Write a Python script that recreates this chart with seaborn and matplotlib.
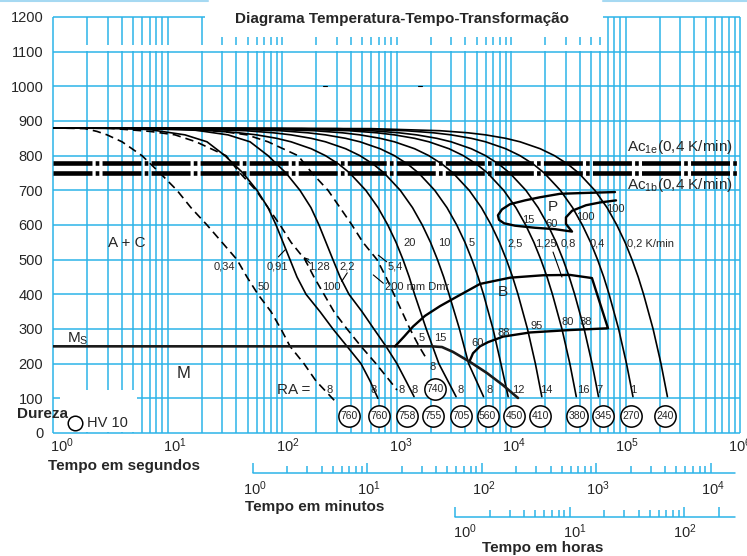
import numpy as np
import matplotlib
matplotlib.use('Agg')
import matplotlib.pyplot as plt
import matplotlib.transforms as mtransforms
from matplotlib.patches import Rectangle
from matplotlib.lines import Line2D
import seaborn as sns

# cooling curves: time as log10(seconds), temperature in degC
# round bars (dashed) and lambda curves (solid)
T_d50 = [880, 878, 870, 860, 840, 800, 750, 700, 650, 600, 550, 500, 450, 400, 350, 300, 250, 200, 150, 86]
lgt_d50 = [0, 0.279, 0.384, 0.472, 0.603, 0.777, 0.934, 1.083, 1.205, 1.345, 1.476, 1.607, 1.694, 1.790,
           1.904, 1.991, 2.070, 2.192, 2.297, 2.480]

T_l091 = [880, 879, 875, 860, 840, 800, 750, 700, 650, 600, 550, 500, 450, 400, 350, 300, 250, 200, 150, 100]
lgt_l091 = [0, 0.585, 0.847, 1.153, 1.345, 1.502, 1.659, 1.782, 1.878, 1.948, 2.009, 2.070, 2.131, 2.210,
            2.332, 2.445, 2.568, 2.690, 2.769, 2.838]

T_d100 = [880, 879, 870, 860, 840, 800, 750, 700, 650, 600, 550, 500, 450, 400, 350, 300, 250, 200, 150, 124]
lgt_d100 = [0, 0.498, 0.847, 1.066, 1.249, 1.511, 1.633, 1.773, 1.878, 1.983, 2.079, 2.201, 2.279, 2.367,
            2.454, 2.568, 2.690, 2.821, 2.943, 3.004]

T_l22 = [880, 879, 875, 860, 840, 800, 750, 700, 650, 600, 550, 500, 450, 400, 350, 300, 250, 200, 150, 105]
lgt_l22 = [0, 0.934, 1.214, 1.528, 1.721, 1.878, 2.035, 2.157, 2.253, 2.323, 2.384, 2.445, 2.507, 2.585,
           2.699, 2.803, 2.908, 3.004, 3.083, 3.153]

T_d200 = [880, 879, 870, 860, 840, 800, 750, 700, 650, 600, 550, 500, 450, 400, 350, 300, 250, 212]
lgt_d200 = [0, 1.127, 1.476, 1.694, 1.878, 2.140, 2.262, 2.402, 2.507, 2.611, 2.707, 2.830, 2.908, 2.978,
            3.048, 3.118, 3.197, 3.266]

# constant-rate curves (K/min)
T_rate = [880, 878, 872, 866, 860, 850, 840, 820, 800, 775, 750, 700, 650, 600, 550, 500, 450, 400, 300, 200, 105]
lgt_r20 = [0, 0.778, 1.380, 1.623, 1.778, 1.954, 2.079, 2.255, 2.380, 2.498, 2.591, 2.732, 2.839, 2.924,
           2.996, 3.057, 3.111, 3.158, 3.26, 3.37, 3.52]
lgt_r10 = [0, 1.079, 1.681, 1.924, 2.079, 2.255, 2.380, 2.556, 2.681, 2.799, 2.892, 3.033, 3.140, 3.225,
           3.297, 3.358, 3.412, 3.459, 3.55, 3.63, 3.76]
lgt_r5 = [0, 1.380, 1.982, 2.225, 2.380, 2.556, 2.681, 2.857, 2.982, 3.100, 3.193, 3.334, 3.441, 3.526,
          3.598, 3.659, 3.713, 3.760, 3.843, 3.912, 3.975]
lgt_r2_5 = [0, 1.681, 2.283, 2.526, 2.681, 2.857, 2.982, 3.158, 3.283, 3.401, 3.494, 3.635, 3.742, 3.827,
            3.899, 3.960, 4.014, 4.061, 4.144, 4.213, 4.269]
lgt_r1_25 = [0, 1.982, 2.584, 2.827, 2.982, 3.158, 3.283, 3.459, 3.584, 3.702, 3.795, 3.936, 4.043, 4.128,
             4.200, 4.261, 4.315, 4.362, 4.445, 4.514, 4.570]
lgt_r0_8 = [0, 2.176, 2.778, 3.021, 3.176, 3.352, 3.477, 3.653, 3.778, 3.896, 3.989, 4.130, 4.237, 4.322,
            4.394, 4.455, 4.509, 4.556, 4.639, 4.708, 4.764]
lgt_r0_4 = [0, 2.477, 3.079, 3.322, 3.477, 3.653, 3.778, 3.954, 4.079, 4.197, 4.290, 4.431, 4.538, 4.623,
            4.695, 4.756, 4.810, 4.857, 4.940, 5.009, 5.065]
lgt_r0_2 = [0, 2.778, 3.380, 3.623, 3.778, 3.954, 4.079, 4.255, 4.380, 4.498, 4.591, 4.732, 4.839, 4.924,
            4.996, 5.057, 5.111, 5.158, 5.241, 5.310, 5.366]
rate_labels = ['20', '10', '5', '2,5', '1,25', '0,8', '0,4', '0,2 K/min']

# transformation regions
T_ms = [250, 250, 248, 234, 205, 173, 138, 101]
lgt_ms = [0, 3.310, 3.397, 3.493, 3.642, 3.790, 3.930, 4.061]
T_bain = [250, 278, 307, 338, 366, 395, 430, 448, 455, 456, 447, 302, 297, 290, 278, 262, 250, 230, 210]
lgt_bain = [2.987, 3.066, 3.144, 3.249, 3.380, 3.537, 3.729, 3.991, 4.279, 4.515, 4.707, 4.847, 4.515,
            4.166, 3.930, 3.799, 3.729, 3.668, 3.642]
T_perl = [695, 692, 690, 680, 671, 660, 645, 628, 615, 605, 598, 592, 588, 581, 603, 622, 641, 657, 665, 671]
lgt_perl = [4.908, 4.603, 4.428, 4.253, 4.122, 3.991, 3.921, 3.886, 3.895, 3.939, 4.035, 4.210, 4.384,
            4.533, 4.480, 4.480, 4.533, 4.655, 4.777, 4.917]
ac1e = 779
ac1b = 750

# hardness HV 10 at the end of each curve
hv_vals = [760, 760, 758, 755, 705, 560, 450, 410, 380, 345, 270, 240, 740]
hv_lgt = [2.585, 2.847, 3.092, 3.319, 3.563, 3.795, 4.026, 4.253, 4.576, 4.803, 5.052, 5.345, 3.336]
hv_T = [50, 50, 50, 50, 50, 50, 50, 50, 50, 50, 50, 50, 127]

# retained austenite (RA), bainite % and pearlite % labels
ra_vals = ['8', '8', '8', '8', '8', '8', '12', '14', '16', '7', '1']
ra_lgt = [2.419, 2.797, 3.045, 3.162, 3.561, 3.817, 4.064, 4.312, 4.631, 4.777, 5.068]
b_vals = ['5', '15', '60', '88', '95', '80', '38']
b_lgt = [3.22, 3.380, 3.712, 3.939, 4.224, 4.493, 4.655]
b_T = [273, 273, 260, 289, 309, 321, 321]
p_vals = ['15', '60', '100', '100']
p_lgt = [4.148, 4.358, 4.646, 4.908]
p_T = [614, 603, 623, 646]

minute_ticks = [m * 10 ** k for k in range(4) for m in range(1, 10)] + [10000]
hour_ticks = [m * 10 ** k for k in range(2) for m in range(1, 10)] + [100, 200]

sns.set_style('white')
plt.rcParams['font.family'] = ['Liberation Sans', 'DejaVu Sans']
plt.rcParams['mathtext.fontset'] = 'custom'
plt.rcParams['mathtext.rm'] = 'Liberation Sans'
plt.rcParams['mathtext.it'] = 'Liberation Sans:italic'
plt.rcParams['mathtext.bf'] = 'Liberation Sans:bold'

BLUE = '#2cb4e8'
DASH = (0, (5, 3))

fig = plt.figure(figsize=(7.47, 5.56), dpi=100)
ax = fig.add_axes([53 / 747, 1 - 433 / 556, 687 / 747, 416 / 556])
ax.set_xscale('log')
ax.set_xlim(1, 1e6)
ax.set_ylim(0, 1200)
ax.set_autoscale_on(False)
for s in ax.spines.values():
    s.set_visible(False)

# grid
grid_x = [m * 10.0 ** k for k in range(6) for m in range(1, 10)] + [1e6]
ax.vlines(grid_x, 0, 1200, colors=BLUE, lw=1.1, zorder=1, clip_on=False)
ax.hlines(np.arange(0, 1201, 100), 1, 1e6, colors=BLUE, lw=1.1, zorder=1, clip_on=False)
ax.add_patch(Rectangle((10 ** 1.33, 1142), 10 ** 4.80 - 10 ** 1.33, 80, fc='white', ec='none',
                       zorder=1.5, clip_on=False))
ax.add_patch(Rectangle((10 ** 0.01, 1103), 10 ** 4.80 - 10 ** 0.01, 16, fc='white', ec='none', zorder=1.5))
ax.add_patch(Rectangle((10 ** 0.061, 2), 10 ** 0.734 - 10 ** 0.061, 122, fc='white', ec='none', zorder=1.5))

# cooling curves
for lgt, T, dashed in [(lgt_d50, T_d50, True), (lgt_l091, T_l091, False), (lgt_d100, T_d100, True),
                       (lgt_l22, T_l22, False), (lgt_d200, T_d200, True)]:
    sns.lineplot(x=10 ** np.asarray(lgt), y=T, sort=False, estimator=None, color='black', lw=1.2,
                 linestyle=DASH if dashed else '-', ax=ax, zorder=3)
for lgt in [lgt_r20, lgt_r10, lgt_r5, lgt_r2_5, lgt_r1_25, lgt_r0_8, lgt_r0_4, lgt_r0_2]:
    sns.lineplot(x=10 ** np.asarray(lgt), y=T_rate, sort=False, estimator=None, color='black', lw=1.2,
                 ax=ax, zorder=3)

# Ms, bainite and pearlite fields
ax.plot(10 ** np.asarray(lgt_ms), T_ms, color='#1a1a1a', lw=1.9, zorder=3)
ax.plot(10 ** np.asarray(lgt_bain), T_bain, color='black', lw=1.7, zorder=3)
ax.plot(10 ** np.asarray(lgt_perl), T_perl, color='black', lw=1.7, zorder=3)

# Ac1 lines
for y in (ac1e, ac1b):
    ax.plot([1, 1e6], [y, y], color='black', lw=3.3, dashes=(8.5, 0.7, 0.8, 0.7),
            solid_capstyle='butt', dash_capstyle='butt', zorder=3.5)
ax.text(10 ** 5.013, 825, r'$\mathregular{Ac_{1e}}$(0,4 K/min)', fontsize=11, ha='left', va='center')
ax.text(10 ** 5.013, 715, r'$\mathregular{Ac_{1b}}$(0,4 K/min)', fontsize=11, ha='left', va='center')

# hardness circles
sns.scatterplot(x=10 ** np.asarray(hv_lgt), y=hv_T, s=235, color='white', edgecolor='black',
                linewidth=1.1, ax=ax, zorder=5, legend=False)
for v, l, T in zip(hv_vals, hv_lgt, hv_T):
    ax.text(10 ** l, T, str(v), fontsize=7.5, ha='center', va='center', zorder=6)
for v, l in zip(ra_vals, ra_lgt):
    ax.text(10 ** l, 124, v, fontsize=8, ha='center', va='center')
ax.text(10 ** 3.316, 190, '8', fontsize=8, ha='center', va='center')
for v, l, T in zip(b_vals, b_lgt, b_T):
    ax.text(10 ** l, T, v, fontsize=8, ha='center', va='center')
for v, l, T in zip(p_vals, p_lgt, p_T):
    ax.text(10 ** l, T, v, fontsize=8, ha='center', va='center')
for v, l in zip(rate_labels, [3.057, 3.362, 3.633, 3.965, 4.210, 4.437, 4.690, 5.013]):
    ax.text(10 ** l, 548, v, fontsize=8, ha='left', va='center')

# labels on the bar / lambda curves
for v, l in zip(['0,34', '0,91', '1,28', '2,2', '5,4'], [1.493, 1.961, 2.319, 2.572, 2.991]):
    ax.text(10 ** l, 479, v, fontsize=8, ha='center', va='center')
ax.text(10 ** 1.843, 421, '50', fontsize=8, ha='center', va='center')
ax.text(10 ** 2.428, 421, '100', fontsize=8, ha='center', va='center')
ax.text(10 ** 2.900, 421, '200 mm Dmr', fontsize=8, ha='left', va='center')
for xs, ys in [([4.367, 4.445], [522, 450]), ([1.968, 2.026], [508, 528]), ([2.570, 2.521], [462, 437]),
               ([2.841, 2.914], [513, 494]), ([2.797, 2.885], [456, 432])]:
    ax.plot(10 ** np.asarray(xs), ys, color='black', lw=0.8, zorder=3)
ax.annotate('', xy=(10 ** 2.172, 513), xytext=(10 ** 2.259, 485),
            arrowprops=dict(arrowstyle='->', lw=0.8, color='black', mutation_scale=7))

ax.text(10 ** 0.646, 548, 'A + C', fontsize=11, ha='center', va='center')
ax.text(10 ** 1.144, 173, 'M', fontsize=12, ha='center', va='center')
ax.text(10 ** 0.122, 262, r'$\mathregular{M_S}$', fontsize=11, ha='left', va='baseline')
ax.text(10 ** 2.105, 124, 'RA =', fontsize=11, ha='center', va='center')
ax.text(10 ** 3.930, 407, 'B', fontsize=11, ha='center', va='center')
ax.text(10 ** 4.367, 652, 'P', fontsize=11, ha='center', va='center')
ax.plot([10 ** 2.36, 10 ** 2.39], [1001, 1001], color='black', lw=0.8)
ax.plot([10 ** 3.19, 10 ** 3.22], [1001, 1001], color='black', lw=0.8)

# hardness legend
ax.scatter([10 ** 0.192], [29], s=110, facecolor='white', edgecolor='black', lw=1.1, zorder=5, clip_on=False)
ax.text(10 ** 0.297, 29, 'HV 10', fontsize=10.5, ha='left', va='center')

# axes ticks
ax.set_yticks(np.arange(0, 1201, 100))
ax.tick_params(axis='y', length=0, pad=7, labelsize=10.5)
ax.tick_params(axis='x', which='both', length=0, labelbottom=False)

blend = mtransforms.blended_transform_factory(ax.transData, ax.transAxes)


def shift(px):
    return blend + mtransforms.ScaledTranslation(px / 100, 0, fig.dpi_scale_trans)


for k in range(7):
    ax.text(10 ** k, -0.0457, r'$\mathregular{10^{%d}}$' % k, fontsize=10.5, ha='left', va='baseline',
            transform=shift(-3 - 1.5 * k), clip_on=False)

# minutes scale
tm = shift(-4)
ax.plot([60, 9.8e5], [-0.0962, -0.0962], color=BLUE, lw=1.1, transform=tm, clip_on=False)
tops = [-0.0721 if m in (1, 10, 100, 1000, 10000) else -0.0793 for m in minute_ticks]
ax.vlines(np.asarray(minute_ticks) * 60.0, -0.0962, tops, colors=BLUE, lw=1.1, transform=tm, clip_on=False)
for k in range(5):
    ax.text(60 * 10 ** k, -0.149, r'$\mathregular{10^{%d}}$' % k, fontsize=10.5, ha='left', va='baseline',
            transform=shift(-14), clip_on=False)

# hours scale
th = shift(-5)
ax.plot([3600, 1e6], [-0.2019, -0.2019], color=BLUE, lw=1.1, transform=th, clip_on=False)
tops = [-0.1779 if h in (1, 10, 100, 200) else -0.1851 for h in hour_ticks]
ax.vlines(np.asarray(hour_ticks) * 3600.0, -0.2019, tops, colors=BLUE, lw=1.1, transform=th, clip_on=False)
for k in range(3):
    ax.text(3600 * 10 ** k, -0.2524, r'$\mathregular{10^{%d}}$' % k, fontsize=10.5, ha='left', va='baseline',
            transform=shift(-7 - 4.5 * k), clip_on=False)

fig.text(402 / 747, 1 - 19 / 556, 'Diagrama Temperatura-Tempo-Transformação', fontsize=11,
         fontweight='bold', ha='center', va='center')
fig.text(48 / 747, 1 - 466 / 556, 'Tempo em segundos', fontsize=11, fontweight='bold', ha='left', va='center')
fig.text(245 / 747, 1 - 507 / 556, 'Tempo em minutos', fontsize=11, fontweight='bold', ha='left', va='center')
fig.text(482 / 747, 1 - 548 / 556, 'Tempo em horas', fontsize=11, fontweight='bold', ha='left', va='center')
fig.text(17 / 747, 1 - 414 / 556, 'Dureza', fontsize=11, fontweight='bold', ha='left', va='center')
fig.add_artist(Line2D([0, 208 / 747], [0.998, 0.998], color='#a6d9f2', lw=1.5))
fig.add_artist(Line2D([603 / 747, 1], [0.998, 0.998], color='#a6d9f2', lw=1.5))

fig.savefig('out.png', dpi=100)
